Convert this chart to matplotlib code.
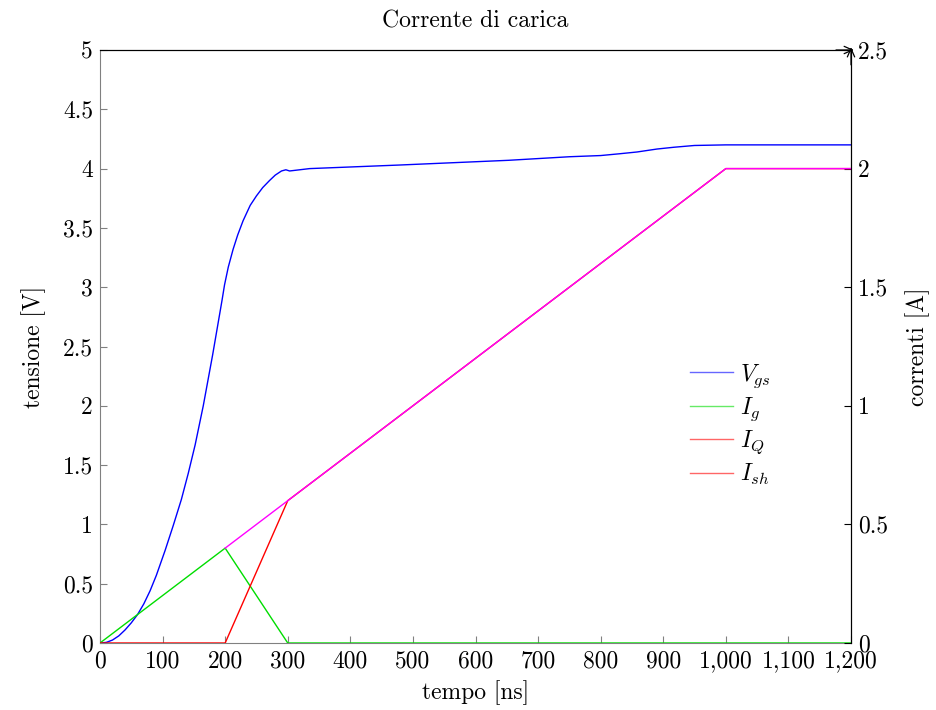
import matplotlib
matplotlib.use("Agg")
import matplotlib.pyplot as plt
from matplotlib.ticker import FuncFormatter, MultipleLocator
from matplotlib.lines import Line2D

plt.rcParams['font.family'] = ['cmr10', 'DejaVu Serif']
plt.rcParams['mathtext.fontset'] = 'cm'
plt.rcParams['axes.unicode_minus'] = False
plt.rcParams['axes.formatter.use_mathtext'] = True

# Vgs (tensione, asse sinistro)
t_vgs = [0, 10, 20, 30, 40, 50, 60, 70, 80, 90, 104, 117, 130, 141, 152, 165,
         180, 195, 199, 205, 212.7, 220, 228.6, 240, 250, 260, 271, 280, 290,
         297, 303, 335, 478, 653, 750, 800, 830, 858, 890, 917, 950, 1000, 1200]
vgs = [0, 0.005, 0.025, 0.06, 0.11, 0.17, 0.24, 0.33, 0.44, 0.57, 0.78, 0.99,
       1.21, 1.43, 1.67, 2.0, 2.43, 2.89, 3.02, 3.17, 3.32, 3.44, 3.56, 3.69,
       3.77, 3.84, 3.90, 3.945, 3.98, 3.99, 3.98, 4.0, 4.03, 4.07, 4.10, 4.11,
       4.125, 4.14, 4.165, 4.18, 4.195, 4.2, 4.2]

# correnti (asse destro)
t_ig = [0, 200, 300, 1200]
ig = [0, 0.4, 0, 0]
t_iq = [0, 200, 300, 1000, 1200]
iq = [0, 0, 0.6, 2, 2]
t_ish = [200, 1000, 1200]
ish = [0.4, 2, 2]

fs = 17

fig = plt.figure(figsize=(9.36, 7.1), dpi=100)
ax = fig.add_axes([100/936, 1-643/710, 751/936, 593/710])
ax2 = ax.twinx()

ax.plot(t_vgs, vgs, color='blue', lw=1, label='$V_{gs}$')
ax2.plot(t_ig, ig, color='#00dd00', lw=1, label='$I_g$')
ax2.plot(t_iq, iq, color='red', lw=1, label='$I_Q$')
ax2.plot(t_ish, ish, color='magenta', lw=1)

ax.set_xlim(0, 1200)
ax.set_ylim(0, 5)
ax2.set_ylim(0, 2.5)
ax.xaxis.set_major_locator(MultipleLocator(100))
ax.yaxis.set_major_locator(MultipleLocator(0.5))
ax2.yaxis.set_major_locator(MultipleLocator(0.5))
ax.xaxis.set_major_formatter(FuncFormatter(lambda v, p: f"{v:,.0f}"))
ax.yaxis.set_major_formatter(FuncFormatter(lambda v, p: f"{v:g}"))
ax2.yaxis.set_major_formatter(FuncFormatter(lambda v, p: f"{v:g}"))

for s in ['left', 'bottom']:
    ax.spines[s].set_color('#808080')
ax2.spines['left'].set_visible(False)
ax2.spines['bottom'].set_visible(False)
ax.tick_params(direction='in', length=5, color='#808080', labelsize=fs, pad=5)
ax.tick_params(axis='x', pad=5)
ax2.tick_params(direction='in', length=5, color='black', labelsize=fs, pad=5)

ax.set_xlabel('tempo [ns]', fontsize=fs, labelpad=6)
ax.set_ylabel('tensione [V]', fontsize=fs, labelpad=12)
ax2.set_ylabel('correnti [A]', fontsize=fs, labelpad=12)
ax.set_title('Corrente di carica', fontsize=fs, pad=16)

# frecce sugli assi superiore e destro
arrow = dict(arrowstyle='->,head_length=0.5,head_width=0.22', color='black',
             lw=0.9, mutation_scale=12, shrinkA=0, shrinkB=0)
ax2.annotate('', xy=(1.004, 1), xytext=(0.98, 1), xycoords='axes fraction',
             arrowprops=arrow)
ax2.annotate('', xy=(1, 1.005), xytext=(1, 0.975), xycoords='axes fraction',
             arrowprops=arrow)

h1, l1 = ax.get_legend_handles_labels()
h2, l2 = ax2.get_legend_handles_labels()
h_ish = Line2D([], [], color='red', lw=1)
leg = ax2.legend(h1 + h2 + [h_ish], l1 + l2 + ['$I_{sh}$'], frameon=False,
                 fontsize=fs, loc='center left', bbox_to_anchor=(0.786, 0.368),
                 borderpad=0, borderaxespad=0, handlelength=1.8,
                 handletextpad=0.3, labelspacing=0.25)
for lh in leg.legend_handles:
    lh.set_alpha(0.6)

fig.savefig('out.png', dpi=100)
